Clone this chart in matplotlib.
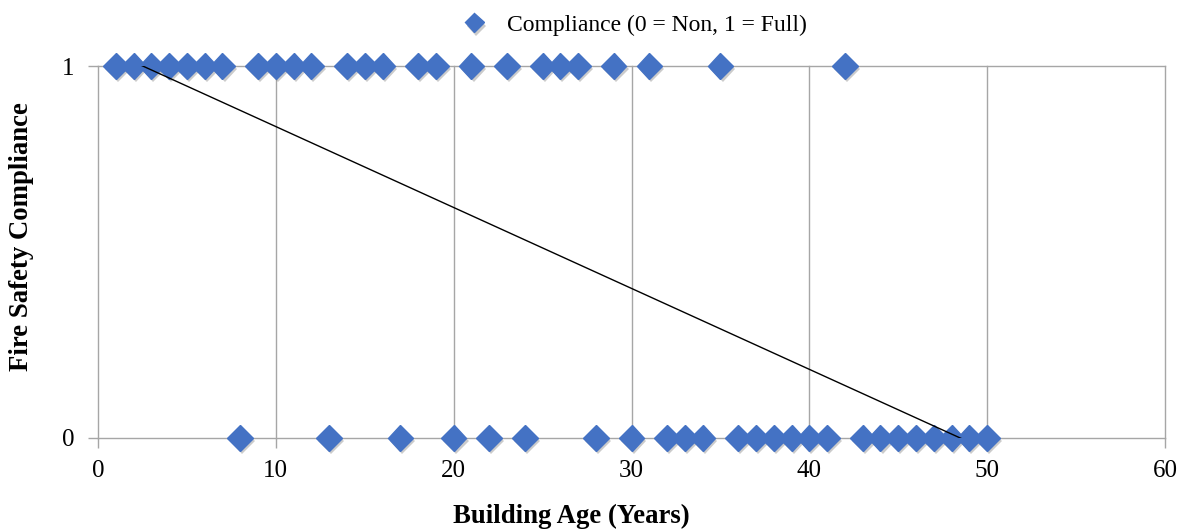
import numpy as np
import matplotlib.pyplot as plt
import matplotlib.patheffects as pe

# Building ages (years) and compliance (0 = Non, 1 = Full)
age_full = [1, 2, 3, 4, 5, 6, 7, 9, 10, 11, 12, 14, 15, 16, 18, 19,
            21, 23, 25, 26, 27, 29, 31, 35, 42]
age_non = [8, 13, 17, 20, 22, 24, 28, 30, 32, 33, 34, 36, 37, 38, 39, 40,
           41, 43, 44, 45, 46, 47, 48, 49, 50]
x_ticks = [0, 10, 20, 30, 40, 50, 60]
y_ticks = [0, 1]

ages = np.array(age_full + age_non)
compliance = np.array([1] * len(age_full) + [0] * len(age_non))
order = np.argsort(ages)
ages = ages[order]
compliance = compliance[order]

plt.rcParams['font.family'] = ['Liberation Serif', 'DejaVu Serif']

fig = plt.figure(figsize=(11.85, 5.3), dpi=100)
ax = fig.add_axes([98 / 1185, 1 - 438 / 530, 1067 / 1185, 372 / 530])

blue = '#4472C4'
grid_c = '#A6A6A6'

# vertical gridlines and top gridline
for xv in x_ticks[1:]:
    ax.axvline(xv, color=grid_c, lw=1.0, zorder=0, clip_on=False)
ax.axhline(1, color=grid_c, lw=1.0, zorder=0, clip_on=False)

# trendline (least squares over the data range)
slope, intercept = np.polyfit(ages, compliance, 1)
xs = np.array([ages.min(), ages.max()])
ax.plot(xs, slope * xs + intercept, color='black', lw=1.0, zorder=4)

ax.plot(ages, compliance, linestyle='none', marker='D', markersize=13,
        color=blue, markeredgecolor=blue, clip_on=False, zorder=3,
        path_effects=[pe.SimplePatchShadow(offset=(1.5, -2.5), alpha=0.3, shadow_rgbFace='#555555'),
                      pe.Normal()],
        label='Compliance (0 = Non, 1 = Full)')

ax.set_xlim(0, 60)
ax.set_ylim(0, 1)
ax.set_xticks(x_ticks)
ax.set_yticks(y_ticks)
ax.tick_params(axis='both', labelsize=18, colors=grid_c, labelcolor='black',
               length=7, width=1.0, direction='out')
ax.tick_params(axis='x', pad=9)
ax.tick_params(axis='y', pad=10)
for s in ['top', 'right']:
    ax.spines[s].set_visible(False)
for s in ['left', 'bottom']:
    ax.spines[s].set_color(grid_c)
    ax.spines[s].set_linewidth(1.0)

fig.text(571 / 1185, 1 - 516 / 530, 'Building Age (Years)', ha='center', va='center',
         fontsize=19.3, fontweight='bold')
fig.text(22 / 1185, 1 - 237 / 530, 'Fire Safety Compliance', ha='center', va='center',
         rotation=90, fontsize=19.3, fontweight='bold')

leg = fig.legend(loc='center', bbox_to_anchor=(629 / 1185, 1 - 25 / 530), frameon=False,
                 fontsize=17, handletextpad=0.4, markerscale=0.75)

fig.savefig('out.png', dpi=100)
